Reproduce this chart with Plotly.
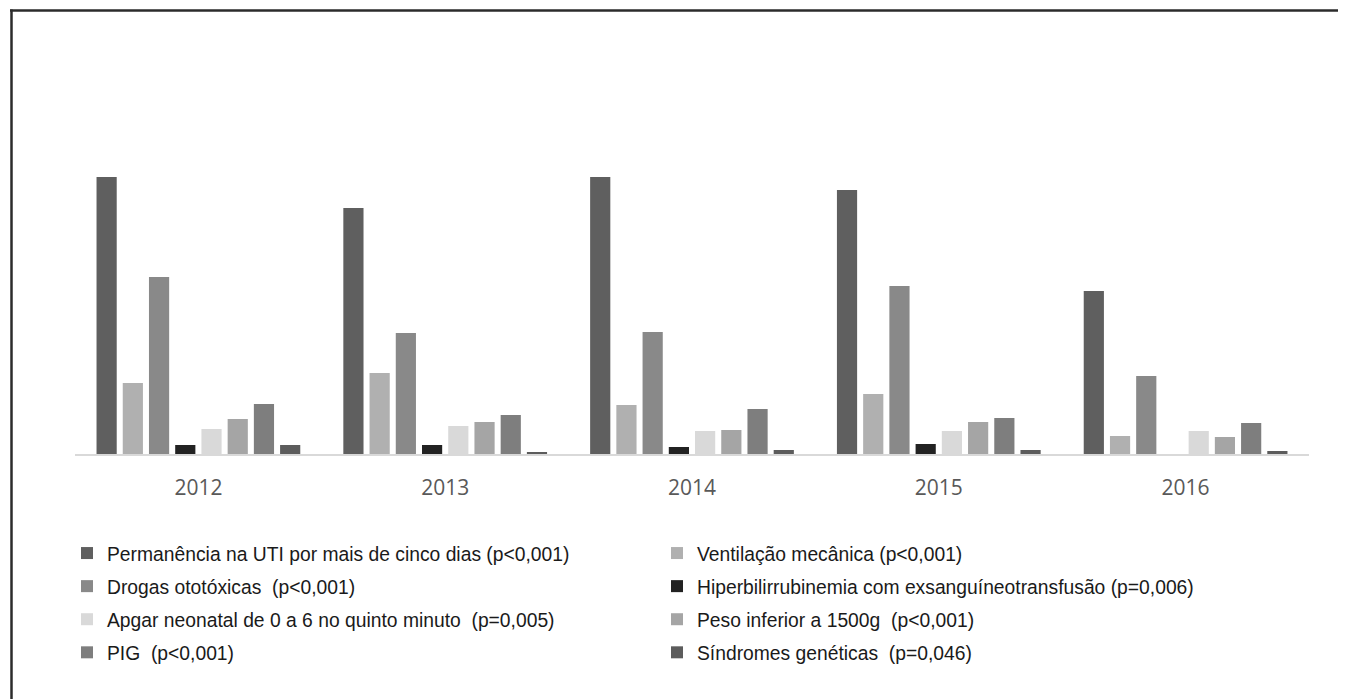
import plotly.graph_objects as go

years = ["2012", "2013", "2014", "2015", "2016"]

series_names = [
    "Permanência na UTI por mais de cinco dias (p<0,001)",
    "Ventilação mecânica (p<0,001)",
    "Drogas ototóxicas  (p<0,001)",
    "Hiperbilirrubinemia com exsanguíneotransfusão (p=0,006)",
    "Apgar neonatal de 0 a 6 no quinto minuto  (p=0,005)",
    "Peso inferior a 1500g  (p<0,001)",
    "PIG  (p<0,001)",
    "Síndromes genéticas  (p=0,046)",
]

permanencia = [277, 246, 277, 264, 163]
ventilacao = [71, 81, 49, 60, 18]
drogas = [177, 121, 122, 168, 78]
hiper = [9, 9, 7, 10, 0]
apgar = [25, 28, 23, 23, 23]
peso = [35, 32, 24, 32, 17]
pig = [50, 39, 45, 36, 31]
sindromes = [9, 2, 4, 4, 3]

values = [permanencia, ventilacao, drogas, hiper, apgar, peso, pig, sindromes]
colors = ["#5f5f5f", "#b0b0b0", "#898989", "#222222", "#d9d9d9", "#a5a5a5", "#7e7e7e", "#5c5c5c"]
legends = ["legend", "legend2", "legend", "legend2", "legend", "legend2", "legend", "legend2"]

fig = go.Figure()
for i, (name, vals, col, lg) in enumerate(zip(series_names, values, colors, legends)):
    fig.add_trace(go.Bar(
        x=years, y=vals, name=name, marker=dict(color=col, line=dict(width=0)),
        legend=lg, legendgroup=f"g{i}",
    ))

# page is drawn with an 8px body margin; work in figure pixel coordinates
W, H = 1338, 691
L, R, T, B = 67, 37, 52, 245
pw = W - L - R
ph = H - T - B

def px_x(px):
    return (px - L) / pw

def px_y(py):
    return (H - B - py) / ph

legend_font = dict(family="Liberation Sans, Arial, sans-serif", size=19.3, color="#1a1a1a")
common_legend = dict(orientation="v", bgcolor="rgba(0,0,0,0)", font=legend_font,
                     tracegroupgap=5, itemwidth=30, xanchor="left", yanchor="top",
                     itemclick=False, itemdoubleclick=False)

fig.update_layout(
    width=W, height=H,
    margin=dict(l=L, r=R, t=T, b=B),
    paper_bgcolor="white", plot_bgcolor="white",
    barmode="group", bargap=0.15, bargroupgap=0.23,
    showlegend=True,
    legend=dict(x=px_x(59), y=px_y(526), **common_legend),
    legend2=dict(x=px_x(649), y=px_y(526), **common_legend),
    xaxis=dict(
        showline=True, linecolor="#d9d9d9", linewidth=1.5,
        showgrid=False, ticks="", ticklabelstandoff=14,
        tickfont=dict(family="Open Sans, sans-serif", size=21, color="#595959"),
    ),
    yaxis=dict(range=[0, ph], visible=False, showgrid=False, zeroline=False),
    shapes=[
        dict(type="line", xref="paper", yref="paper", x0=px_x(2), x1=px_x(W + 5),
             y0=px_y(2.5), y1=px_y(2.5), line=dict(color="#2b2b2b", width=2.5)),
        dict(type="line", xref="paper", yref="paper", x0=px_x(3.5), x1=px_x(3.5),
             y0=px_y(1.5), y1=px_y(H + 5), line=dict(color="#2b2b2b", width=2.5)),
    ],
)

fig.write_html("out.html")
